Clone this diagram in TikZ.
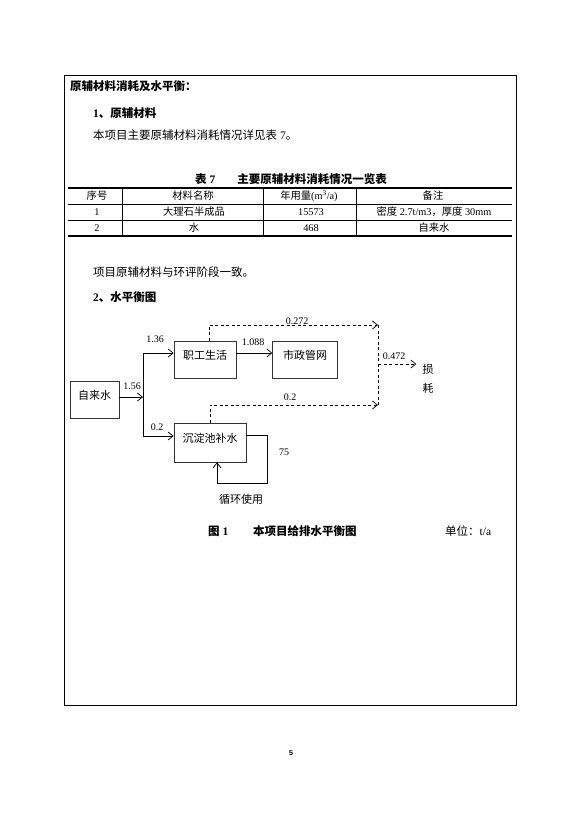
\documentclass[tikz,border=0pt]{standalone}
\usepackage{fontspec}
\setmainfont{Liberation Serif}
\newfontfamily\cjk{Noto Sans CJK SC}
\newfontfamily\pagefont{Liberation Sans}
\usetikzlibrary{positioning, arrows.meta}

\begin{document}
\begin{tikzpicture}[
        x=1pt, y=-1pt,
        txt/.style={anchor=west, inner sep=0pt, font=\fontsize{11.5}{13}\selectfont},
        cell/.style={inner sep=0pt, font=\fontsize{10.3}{12}\selectfont},
        box/.style={draw=black!80, line width=0.7pt, inner sep=0pt, minimum height=37pt,
                    text height=8pt, text depth=9pt, font=\cjk\fontsize{11}{13}\selectfont},
        num/.style={inner sep=0pt, font=\fontsize{10}{12}\selectfont},
        lbl/.style={inner sep=0pt, align=center, font=\cjk\fontsize{11}{19}\selectfont},
        arr/.style={-{Straight Barb[length=5pt, width=8pt]}, line width=0.7pt},
        dasharr/.style={arr, dash pattern=on 3pt off 2.5pt},
        rule/.style={line width=0.5pt}
    ]
    \useasboundingbox[fill=white] (0,0) rectangle (582,820);
    % outer frame
    \draw[line width=0.9pt] (64,75) rectangle (516,705);

    % text above the table
    \node[txt] (title) at (70,86) {\cjk\bfseries 原辅材料消耗及水平衡：};
    \node[txt] (sec1) at (93,113) {\textbf{1}{\cjk\bfseries 、原辅材料}};
    \node[txt] (body1) at (93,135) {{\cjk 本项目主要原辅材料消耗情况详见表} 7{\cjk 。}};

    % table 7
    \node[cell, font=\fontsize{11.5}{13}\selectfont] (tabcap) at (291,179)
        {{\cjk\bfseries 表} \textbf{7}\hspace{22pt}{\cjk\bfseries 主要原辅材料消耗情况一览表}};
    \draw[line width=1.3pt] (68,188) -- (512,188);
    \draw[rule] (68,204) -- (512,204);
    \draw[rule] (68,220) -- (512,220);
    \draw[line width=1.3pt] (68,236) -- (512,236);
    \foreach \cx in {122,263,356}
        \draw[rule] (\cx,188) -- (\cx,236);

    \node[cell] (h1) at (97,196) {\cjk 序号};
    \node[cell] (h2) at (193,196) {\cjk 材料名称};
    \node[cell] (h3) at (309,196) {{\cjk 年用量}(m\textsuperscript{3}/a)};
    \node[cell] (h4) at (433,196) {\cjk 备注};
    \node[cell] (r11) at (97,212) {1};
    \node[cell] (r12) at (194,212) {\cjk 大理石半成品};
    \node[cell] (r13) at (311,212) {15573};
    \node[cell] (r14) at (434,212) {{\cjk 密度} 2.7t/m3{\cjk ，厚度} 30mm};
    \node[cell] (r21) at (97,228) {2};
    \node[cell] (r22) at (194,228) {\cjk 水};
    \node[cell] (r23) at (311,228) {468};
    \node[cell] (r24) at (434,228) {\cjk 自来水};

    \node[txt] (body2) at (93,272) {\cjk 项目原辅材料与环评阶段一致。};
    \node[txt] (sec2) at (93,297) {\textbf{2}{\cjk\bfseries 、水平衡图}};

    % water balance diagram
    \node[box, minimum width=49pt] (tap) at (94.5,400) {自来水};
    \node[box, minimum width=62pt] (life) at (205,359.5) {职工生活};
    \node[box, minimum width=65pt, right=36pt of life] (city) {市政管网};
    \node[box, minimum width=72pt, minimum height=39pt] (settle) at (210,442.5) {沉淀池补水};
    \node[lbl] (loss) at (428,379) {损\\耗};
    \node[lbl] (reuse) at (241,499) {循环使用};

    \coordinate (split) at (143,397);
    \coordinate (up) at (143,353);
    \coordinate (down) at (143,436);
    \coordinate (lossTop) at (378,325);
    \coordinate (lossBot) at (378,405);
    \coordinate (lossMid) at (378,364);
    \coordinate (loopR) at (267,483);
    \coordinate (loopL) at (217,483);

    \draw[arr] (tap.east |- split) -- (split);
    \draw[line width=0.7pt] (up) -- (down);
    \draw[arr] (up) -- (up -| life.west);
    \draw[arr] (down) -- (down -| settle.west);
    \draw[arr] (life.east |- up) -- (city.west |- up);
    \draw[dasharr] ([xshift=4pt]life.north) |- (lossTop);
    \draw[dasharr] (settle.north) |- (lossBot);
    \draw[line width=0.7pt, dash pattern=on 3pt off 2.5pt] (lossTop) -- (lossBot);
    \draw[dasharr, shorten >=6pt] (lossMid) -- (lossMid -| loss.west);
    \draw[arr] (settle.east |- 0,435) -| (loopR) -- (loopL) -- (loopL |- settle.south);

    \node[num] (n156) at (132,386) {1.56};
    \node[num] (n136) at (155,339) {1.36};
    \node[num] (n02a) at (157,427) {0.2};
    \node[num] (n1088) at (253,342) {1.088};
    \node[num] (n0272) at (297,321) {0.272};
    \node[num] (n02b) at (290,397) {0.2};
    \node[num] (n0472) at (394,356) {0.472};
    \node[num] (n75) at (284,452) {75};

    % figure caption
    \node[txt] (figno) at (208,531) {{\cjk\bfseries 图} \textbf{1}};
    \node[txt] (figcap) at (253,531) {\cjk\bfseries 本项目给排水平衡图};
    \node[txt] (unit) at (445,531) {{\cjk 单位：}t/a};

    \node[inner sep=0pt, font=\pagefont\bfseries\fontsize{7}{8}\selectfont] (page) at (291,753) {5};
\end{tikzpicture}
\end{document}
